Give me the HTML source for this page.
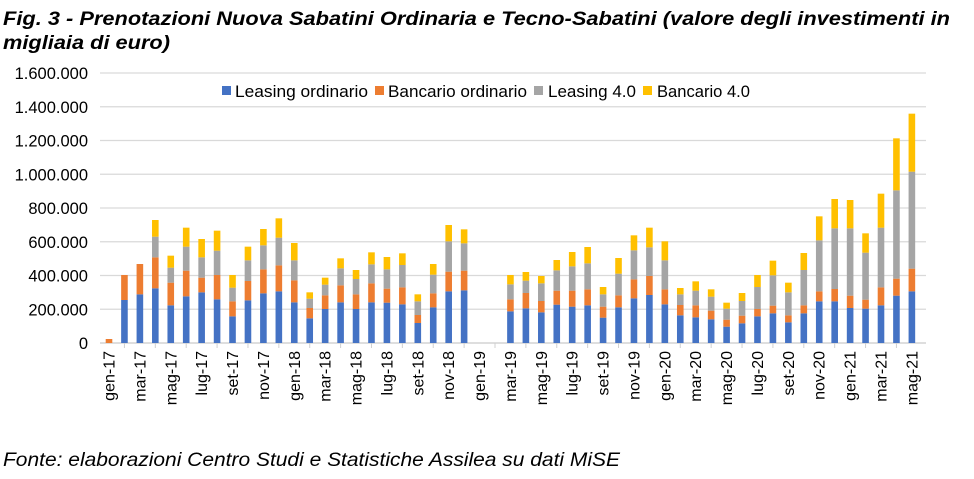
<!DOCTYPE html>
<html><head><meta charset="utf-8"><style>
body{margin:0;background:#fff;width:974px;height:474px;overflow:hidden;font-family:"Liberation Sans",Arial,sans-serif}
</style></head><body>
<svg id="s" width="974" height="474" xmlns="http://www.w3.org/2000/svg" font-family="Liberation Sans, Arial, sans-serif">
<text x="3" y="25" font-size="19" font-weight="bold" font-style="italic" fill="#000" textLength="947" lengthAdjust="spacingAndGlyphs">Fig. 3 - Prenotazioni Nuova Sabatini Ordinaria e Tecno-Sabatini (valore degli investimenti in</text>
<text x="3" y="49" font-size="19" font-weight="bold" font-style="italic" fill="#000" textLength="167" lengthAdjust="spacingAndGlyphs">migliaia di euro)</text>
<text x="3" y="466" font-size="19" font-style="italic" fill="#000" textLength="617" lengthAdjust="spacingAndGlyphs">Fonte: elaborazioni Centro Studi e Statistiche Assilea su dati MiSE</text>
<g font-size="16.5" fill="#000">
<rect x="222" y="86" width="9" height="9" fill="#4472c4"/><text x="235" y="97" textLength="133" lengthAdjust="spacingAndGlyphs">Leasing ordinario</text>
<rect x="375" y="86" width="9" height="9" fill="#ed7d31"/><text x="388" y="97" textLength="139" lengthAdjust="spacingAndGlyphs">Bancario ordinario</text>
<rect x="534" y="86" width="9" height="9" fill="#a5a5a5"/><text x="548" y="97" textLength="88" lengthAdjust="spacingAndGlyphs">Leasing 4.0</text>
<rect x="643" y="86" width="9" height="9" fill="#ffc000"/><text x="657" y="97" textLength="93" lengthAdjust="spacingAndGlyphs">Bancario 4.0</text>
</g>
<g id="g"></g>
</svg>
<script>
var g=document.getElementById('g'),ns='http://www.w3.org/2000/svg';
function el(t,a,txt){var e=document.createElementNS(ns,t);for(var k in a)e.setAttribute(k,a[k]);if(txt)e.textContent=txt;g.appendChild(e);return e;}
var labs=['0','200.000','400.000','600.000','800.000','1.000.000','1.200.000','1.400.000','1.600.000'];
for(var i=0;i<9;i++){var y=343-i*33.75;el('line',{x1:100,x2:926,y1:y,y2:y,stroke:'#d9d9d9','stroke-width':1.3});el('text',{x:88,y:y+6,'font-size':16.5,'text-anchor':'end'},labs[i]);}
el('line',{x1:100,x2:926,y1:343,y2:343,stroke:'#d0d0d0','stroke-width':1.3});
var A=[[430,417,417,417],[300,225,225,225],[283,192,192,192],[265,172,110,60],[316,248,203,167],[289,212,140,83],[277,233,172,117],[298,225,152,92],[349,304,263,225],[301,243,181,140],[280,208,136,87],[274,196,113,55],[307,241,181,129],[355,324,296,277],[327,286,254,233],[307,256,205,175],[327,283,237,210],[307,250,193,157],[308,266,208,171],[313,262,195,160],[369,345,304,283],[322,280,224,192],[274,215,124,75],[271,212,130,88]];
var B=[[634,598,553,525],[625,579,542,516],[637,603,550,528],[614,572,511,480],[620,572,499,456],[616,568,490,441],[653,620,583,561],[622,586,521,474],[595,538,451,406],[585,528,442,383],[613,568,481,424],[646,615,583,564],[652,616,572,544],[658,632,590,568],[680,659,626,608],[670,647,603,579],[649,627,561,525],[640,617,526,482],[667,646,577,548],[640,616,510,459],[604,574,421,349],[604,567,385,297],[624,587,385,300],[626,599,458,400],[616,562,383,281],[587,536,271,115],[574,506,215,41]];
var H=[];A.forEach(function(r){H.push(r.map(function(z){return Math.max(0,143-z/3);}));});
H.push(null,null);B.forEach(function(r){H.push(r.map(function(z){return 243-z/3;}));});
var cols=['#4472c4','#ed7d31','#a5a5a5','#ffc000'];
var m=['gen','feb','mar','apr','mag','giu','lug','ago','set','ott','nov','dic'];
for(var i=0;i<53;i++){var cx=109+i*15.44;var h=H[i];
 if(h){var prev=0;for(var k=0;k<4;k++){if(h[k]>prev){el('rect',{x:cx-3.3,y:343-h[k],width:6.6,height:h[k]-prev,fill:cols[k]});prev=h[k];}}}
 if(i%2==0){var lab=m[i%12]+'-'+(17+Math.floor(i/12));el('text',{'font-size':16,'text-anchor':'end',transform:'translate('+(cx+5.5)+',351) rotate(-90)'},lab);}
 else el('line',{x1:cx,x2:cx,y1:343,y2:348,stroke:'#d0d0d0'});
}
</script>
</body></html>
